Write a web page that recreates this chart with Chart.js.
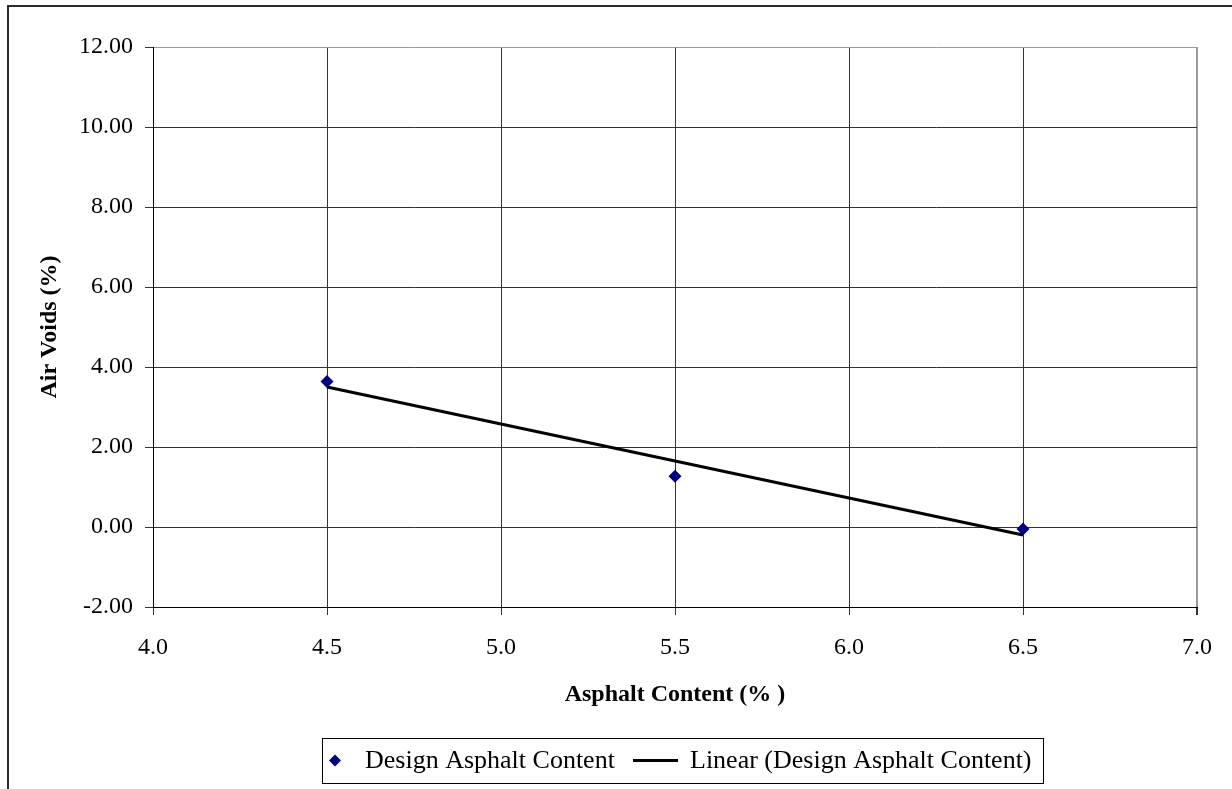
<!DOCTYPE html>
<html>
<head>
<meta charset="utf-8">
<title>Air Voids vs Asphalt Content</title>
<script src="https://cdn.jsdelivr.net/npm/chart.js@4.4.1/dist/chart.umd.min.js"></script>
<style>
  html, body { margin: 0; padding: 0; background: #fff; overflow: hidden; }
  #wrap { position: relative; width: 1232px; height: 789px; }
</style>
</head>
<body>
<div id="wrap"><canvas id="chart"></canvas></div>
<script>
// Measured mix design points
const asphaltContent = [4.5, 5.5, 6.5];
const airVoids = [3.64, 1.27, -0.05];

// Linear trendline end points
const trendX = [4.5, 6.5];
const trendY = [3.50, -0.20];

// Axis ticks
const xTicks = [4.0, 4.5, 5.0, 5.5, 6.0, 6.5, 7.0];
const yTicks = [-2, 0, 2, 4, 6, 8, 10, 12];

const seriesName = 'Design Asphalt Content';
const trendName = 'Linear (Design Asphalt Content)';

const SERIF = "'Liberation Serif', 'Times New Roman', serif";
const GRID = '#333333';
const EDGE = '#9a9a9a';

// Outer frame of the chart object
const framePlugin = {
  id: 'frame',
  beforeDraw(chart) {
    const ctx = chart.ctx;
    ctx.save();
    ctx.strokeStyle = '#2b2b2b';
    ctx.lineWidth = 2;
    ctx.beginPath();
    ctx.moveTo(8, chart.height + 5);
    ctx.lineTo(8, 6);
    ctx.lineTo(chart.width + 5, 6);
    ctx.stroke();
    ctx.restore();
  }
};

// Boxed legend below the axis title
const boxedLegend = {
  id: 'boxedLegend',
  afterDraw(chart) {
    const ctx = chart.ctx;
    const ds = chart.data.datasets;
    const box = { left: 322, top: 738, right: 1043, bottom: 783 };
    const cy = (box.top + box.bottom) / 2;
    ctx.save();
    ctx.fillStyle = '#fff';
    ctx.fillRect(box.left, box.top, box.right - box.left, box.bottom - box.top);
    ctx.strokeStyle = '#000';
    ctx.lineWidth = 1;
    ctx.strokeRect(box.left + 0.5, box.top + 0.5, box.right - box.left, box.bottom - box.top);

    // scatter entry: diamond swatch
    const r = 6;
    ctx.fillStyle = ds[0].backgroundColor;
    ctx.beginPath();
    ctx.moveTo(335 - r, cy); ctx.lineTo(335, cy - r); ctx.lineTo(335 + r, cy); ctx.lineTo(335, cy + r);
    ctx.closePath();
    ctx.fill();

    ctx.font = "26px " + SERIF;
    ctx.fillStyle = '#000';
    ctx.textBaseline = 'middle';
    ctx.textAlign = 'left';
    ctx.fillText(ds[0].label, 365, cy + 1);

    // trendline entry: line swatch
    ctx.strokeStyle = ds[1].borderColor;
    ctx.lineWidth = ds[1].borderWidth;
    ctx.beginPath();
    ctx.moveTo(633, cy); ctx.lineTo(678, cy);
    ctx.stroke();
    ctx.fillText(ds[1].label, 690, cy + 1);
    ctx.restore();
  }
};

const ctx = document.getElementById('chart').getContext('2d');
new Chart(ctx, {
  type: 'scatter',
  data: {
    datasets: [
      {
        label: seriesName,
        data: asphaltContent.map((x, i) => ({ x, y: airVoids[i] })),
        backgroundColor: '#000080',
        borderColor: '#000080',
        borderWidth: 0,
        pointStyle: 'rectRot',
        pointRadius: 6.5,
        pointHoverRadius: 6.5,
        order: 1
      },
      {
        label: trendName,
        type: 'line',
        data: trendX.map((x, i) => ({ x, y: trendY[i] })),
        borderColor: '#000000',
        borderWidth: 3,
        pointRadius: 0,
        fill: false,
        tension: 0,
        order: 2
      }
    ]
  },
  options: {
    responsive: true,
    maintainAspectRatio: false,
    animation: false,
    layout: { padding: { left: 0, top: 47, right: 35, bottom: 80 } },
    plugins: {
      legend: { display: false },
      tooltip: { enabled: false },
      title: { display: false }
    },
    scales: {
      x: {
        type: 'linear',
        min: 4, max: 7,
        afterBuildTicks: s => { s.ticks = xTicks.map(v => ({ value: v })); },
        afterFit: s => { s.height = 102; },
        border: { display: true, color: '#000', width: 1 },
        grid: {
          color: c => (c.tick && c.tick.value === 7 ? EDGE : GRID),
          lineWidth: c => (c.tick && c.tick.value === 7 ? 2 : 1),
          tickColor: GRID,
          tickLength: 8,
          drawTicks: true
        },
        ticks: {
          color: '#000',
          font: { family: SERIF, size: 24 },
          padding: 18,
          maxRotation: 0,
          callback: v => Number(v).toFixed(1)
        },
        title: {
          display: true,
          text: 'Asphalt Content (% )',
          color: '#000',
          font: { family: SERIF, size: 24, weight: 'bold' },
          padding: { top: 0, bottom: 0 }
        }
      },
      y: {
        type: 'linear',
        min: -2, max: 12,
        afterBuildTicks: s => { s.ticks = yTicks.map(v => ({ value: v })); },
        afterFit: s => { s.width = 153; },
        border: { display: true, color: '#000', width: 1 },
        grid: {
          color: c => (c.tick && c.tick.value === 12 ? EDGE : GRID),
          tickColor: GRID,
          tickLength: 8,
          drawTicks: true
        },
        ticks: {
          color: '#000',
          font: { family: SERIF, size: 24 },
          padding: 12,
          callback: v => Number(v).toFixed(2)
        },
        title: {
          display: true,
          text: 'Air Voids (%)',
          color: '#000',
          font: { family: SERIF, size: 24, weight: 'bold' },
          padding: { top: 35, bottom: 0 }
        }
      }
    }
  },
  plugins: [framePlugin, boxedLegend]
});
</script>
</body>
</html>
